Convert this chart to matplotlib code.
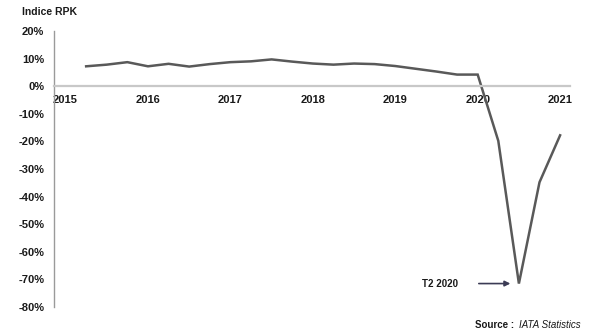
import matplotlib
matplotlib.use("Agg")
import matplotlib.pyplot as plt
import numpy as np

plt.rcParams['font.family'] = ['Liberation Sans', 'DejaVu Sans']

# Quarterly RPK growth (% y/y), Q1 2015 .. Q4 2020
quarters = np.arange(2015.25, 2021.01, 0.25)
rpk = [7.2, 7.8, 8.7, 7.2,
       8.1, 7.1, 8.0, 8.7,
       9.0, 9.7, 8.9, 8.2,
       7.8, 8.2, 8.0, 7.3,
       6.3, 5.3, 4.2, 4.2,
       -19.8, -71.5, -34.8, -17.8]
years = [2015, 2016, 2017, 2018, 2019, 2020, 2021]
yticks = list(range(-80, 21, 10))

fig = plt.figure(figsize=(6, 3.33), dpi=100)
ax = fig.add_axes([0.09, 0.078, 0.86, 0.829])

ax.plot(quarters, rpk, color='#595959', lw=1.8, solid_joinstyle='miter')

ax.set_xlim(2014.86, 2021.12)
ax.set_ylim(-80, 20)
ax.set_yticks(yticks)
ax.set_yticklabels([f"{v}%" for v in yticks])
ax.set_xticks(years)
ax.set_xticklabels([str(y) for y in years])

for s in ['top', 'right']:
    ax.spines[s].set_visible(False)
ax.spines['left'].set_color('#9a9a9a')
ax.spines['left'].set_linewidth(1.0)
ax.spines['bottom'].set_position(('data', 0))
ax.spines['bottom'].set_color('#c8c8c8')
ax.spines['bottom'].set_linewidth(1.6)
ax.tick_params(axis='both', length=0, labelsize=8, colors='#1a1a1a')
ax.tick_params(axis='y', pad=7)
ax.tick_params(axis='x', pad=6)
for lab in ax.get_xticklabels() + ax.get_yticklabels():
    lab.set_fontweight('bold')

# annotation
ax.annotate('', xy=(2020.43, -71.5), xytext=(2019.98, -71.5),
            arrowprops=dict(arrowstyle='-|>', color='#3b3b55', lw=1.2,
                            mutation_scale=8))
ax.text(2019.76, -71.5, 'T2 2020', ha='right', va='center',
        fontsize=7, fontweight='bold', color='#1a1a1a')

fig.text(22 / 600, 1 - 12 / 333, 'Indice RPK', ha='left', va='center',
         fontsize=7.5, fontweight='bold', color='#1a1a1a')
fig.text(517 / 600, 1 - 325 / 333, 'Source : ', ha='right', va='center',
         fontsize=7, fontweight='bold', color='#1a1a1a')
fig.text(519 / 600, 1 - 325 / 333, 'IATA Statistics', ha='left', va='center',
         fontsize=7, style='italic', color='#1a1a1a')

fig.savefig('out.png', dpi=100)
